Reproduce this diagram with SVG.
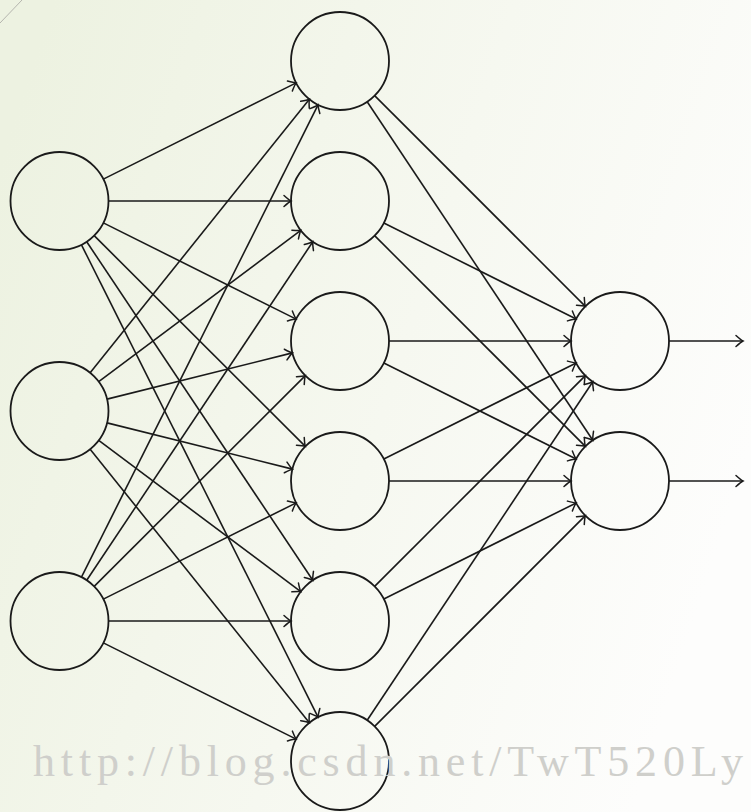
<svg xmlns="http://www.w3.org/2000/svg" width="751" height="812" viewBox="0 0 751 812">
<style>
.node{fill:none;stroke:#1a1a1a;stroke-width:1.8}
.edge{fill:none;stroke:#1a1a1a;stroke-width:1.6;marker-end:url(#arr)}
.wm{font-family:"Liberation Serif","DejaVu Serif",serif;font-size:44px;fill:#cfcfcb}
</style>
<defs>
<linearGradient id="bg" x1="0" y1="0.2" x2="1" y2="0.55">
<stop offset="0" stop-color="#edf2e1"/>
<stop offset="0.55" stop-color="#f6f8f0"/>
<stop offset="1" stop-color="#fdfdfc"/>
</linearGradient>
<marker id="arr" viewBox="-9 -7 11 14" refX="0" refY="0" markerWidth="11" markerHeight="14" markerUnits="userSpaceOnUse" orient="auto" overflow="visible">
<path d="M-7,-5.5 Q-2,-1 0,0 Q-2,1 -7,5.5" fill="none" stroke="#1a1a1a" stroke-width="1.5" stroke-linecap="round"/>
</marker>
</defs>
<rect x="0" y="0" width="751" height="812" fill="url(#bg)"/>
<line x1="0" y1="23" x2="22" y2="0" stroke="#b5b5ae" stroke-width="1"/>
<g id="connectors">
<line class="edge" x1="103.34" y1="179.12" x2="296.16" y2="82.88"/>
<line class="edge" x1="108.5" y1="201" x2="291" y2="201"/>
<line class="edge" x1="103.34" y1="222.88" x2="296.16" y2="319.12"/>
<line class="edge" x1="94.18" y1="235.62" x2="305.32" y2="446.38"/>
<line class="edge" x1="86.71" y1="241.75" x2="312.79" y2="580.25"/>
<line class="edge" x1="81.45" y1="244.81" x2="318.05" y2="717.19"/>
<line class="edge" x1="90.14" y1="372.76" x2="309.36" y2="99.24"/>
<line class="edge" x1="98.73" y1="381.63" x2="300.77" y2="230.37"/>
<line class="edge" x1="107.04" y1="399.14" x2="292.46" y2="352.86"/>
<line class="edge" x1="107.04" y1="422.86" x2="292.46" y2="469.14"/>
<line class="edge" x1="98.73" y1="440.37" x2="300.77" y2="591.63"/>
<line class="edge" x1="90.14" y1="449.24" x2="309.36" y2="722.76"/>
<line class="edge" x1="81.45" y1="577.19" x2="318.05" y2="104.81"/>
<line class="edge" x1="86.71" y1="580.25" x2="312.79" y2="241.75"/>
<line class="edge" x1="94.18" y1="586.38" x2="305.32" y2="375.62"/>
<line class="edge" x1="103.34" y1="599.12" x2="296.16" y2="502.88"/>
<line class="edge" x1="108.5" y1="621" x2="291" y2="621"/>
<line class="edge" x1="103.34" y1="642.88" x2="296.16" y2="739.12"/>
<line class="edge" x1="374.65" y1="95.65" x2="585.35" y2="306.35"/>
<line class="edge" x1="383.83" y1="222.91" x2="576.17" y2="319.09"/>
<line class="edge" x1="389" y1="341" x2="571" y2="341"/>
<line class="edge" x1="383.83" y1="459.09" x2="576.17" y2="362.91"/>
<line class="edge" x1="374.65" y1="586.35" x2="585.35" y2="375.65"/>
<line class="edge" x1="367.18" y1="720.23" x2="592.82" y2="381.77"/>
<line class="edge" x1="367.18" y1="101.77" x2="592.82" y2="440.23"/>
<line class="edge" x1="374.65" y1="235.65" x2="585.35" y2="446.35"/>
<line class="edge" x1="383.83" y1="362.91" x2="576.17" y2="459.09"/>
<line class="edge" x1="389" y1="481" x2="571" y2="481"/>
<line class="edge" x1="383.83" y1="599.09" x2="576.17" y2="502.91"/>
<line class="edge" x1="374.65" y1="726.35" x2="585.35" y2="515.65"/>
<line class="edge" x1="669" y1="341" x2="743" y2="341"/>
<line class="edge" x1="669" y1="481" x2="743" y2="481"/>
</g>
<g id="in1"><circle class="node" cx="59.5" cy="201" r="49"/></g>
<g id="in2"><circle class="node" cx="59.5" cy="411" r="49"/></g>
<g id="in3"><circle class="node" cx="59.5" cy="621" r="49"/></g>
<g id="h1"><circle class="node" cx="340" cy="61" r="49"/></g>
<g id="h2"><circle class="node" cx="340" cy="201" r="49"/></g>
<g id="h3"><circle class="node" cx="340" cy="341" r="49"/></g>
<g id="h4"><circle class="node" cx="340" cy="481" r="49"/></g>
<g id="h5"><circle class="node" cx="340" cy="621" r="49"/></g>
<g id="h6"><circle class="node" cx="340" cy="761" r="49"/></g>
<g id="out1"><circle class="node" cx="620" cy="341" r="49"/></g>
<g id="out2"><circle class="node" cx="620" cy="481" r="49"/></g>
<text class="wm" x="33" y="776" textLength="710" lengthAdjust="spacing">http://blog.csdn.net/TwT520Ly</text>
</svg>
